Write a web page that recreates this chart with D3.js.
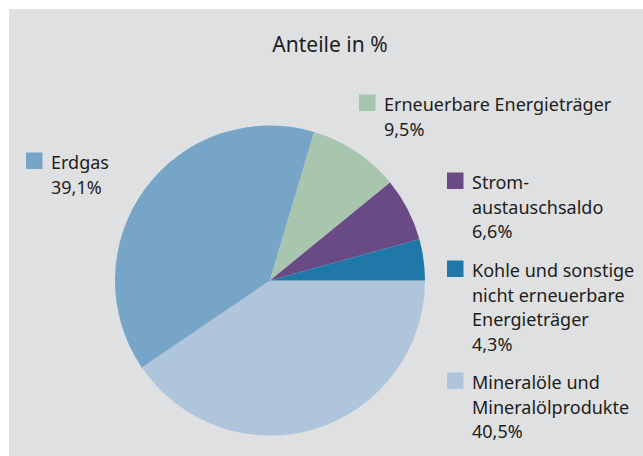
<!DOCTYPE html>
<html>
<head>
<meta charset="utf-8">
<script src="https://cdn.jsdelivr.net/npm/d3@7"></script>
<style>
  body { margin: 0; background: #fff; }
  text { font-family: "Noto Sans", sans-serif; fill: #1d1d1b; }
</style>
</head>
<body>
<div id="chart"></div>
<script>
// data, in pie order (clockwise from 3 o'clock)
var categories = ["Mineralöle und Mineralölprodukte", "Erdgas", "Erneuerbare Energieträger",
                  "Stromaustauschsaldo", "Kohle und sonstige nicht erneuerbare Energieträger"];
var values = [40.5, 39.1, 9.5, 6.6, 4.3];
var labelLines = [
  ["Mineralöle und", "Mineralölprodukte"],
  ["Erdgas"],
  ["Erneuerbare Energieträger"],
  ["Strom-", "austauschsaldo"],
  ["Kohle und sonstige", "nicht erneuerbare", "Energieträger"]
];
var colors = ["#aec5db", "#76a5c8", "#a8c6ae", "#6a4a85", "#1f78a8"];

var width = 643, height = 456;
var cx = 270, cy = 280.5, radius = 155;
var lineH = 24.5;

// legend anchor: x of square, baseline of first line
var legendPos = [
  {x: 447, y: 389},
  {x: 26, y: 169},
  {x: 359, y: 111},
  {x: 447, y: 189},
  {x: 447, y: 277}
];

var de = d3.formatLocale({decimal: ",", thousands: ".", grouping: [3], currency: ["", " €"]});
var fmt = de.format(".1f");

var svg = d3.select("#chart").append("svg")
    .attr("width", width)
    .attr("height", height);

svg.append("rect")
    .attr("x", 9).attr("y", 9)
    .attr("width", width - 9).attr("height", height - 9)
    .attr("fill", "#dfe0e2");

svg.append("text")
    .attr("x", 330).attr("y", 52)
    .attr("text-anchor", "middle")
    .style("font-size", "21px")
    .text("Anteile in %");

var pie = d3.pie()
    .sort(null)
    .startAngle(Math.PI / 2)
    .endAngle(Math.PI / 2 + 2 * Math.PI);

var arc = d3.arc().innerRadius(0).outerRadius(radius);

svg.append("g")
    .attr("transform", "translate(" + cx + "," + cy + ")")
  .selectAll("path")
  .data(pie(values))
  .enter().append("path")
    .attr("d", arc)
    .attr("fill", function(d, i) { return colors[i]; });

var legend = svg.selectAll(".legend")
  .data(categories)
  .enter().append("g")
    .attr("class", "legend")
    .attr("transform", function(d, i) { return "translate(" + legendPos[i].x + "," + legendPos[i].y + ")"; });

legend.append("rect")
    .attr("x", 0).attr("y", -16.5)
    .attr("width", 16.5).attr("height", 16.5)
    .attr("fill", function(d, i) { return colors[i]; });

legend.append("text")
    .attr("x", 25)
    .style("font-size", "18px")
    .selectAll("tspan")
    .data(function(d, i) { return labelLines[i].concat([fmt(values[i]) + "%"]); })
    .enter().append("tspan")
      .attr("x", 25)
      .attr("y", function(d, j) { return j * lineH; })
      .text(function(d) { return d; });
</script>
</body>
</html>
